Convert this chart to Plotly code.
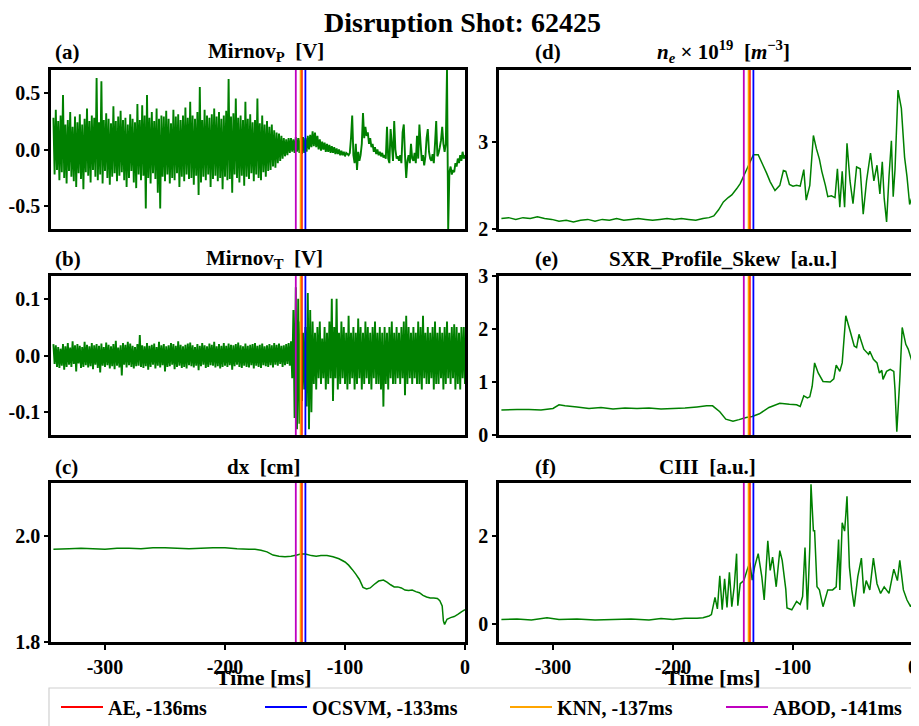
import plotly.graph_objects as go

# ---------------- data ----------------
t_mirnov = list(range(-343, 1))  # 1 ms grid

mirnov_p = [
    0.28,-0.22,0.35,-0.18,0.25,-0.27,0.30,-0.20,0.48,-0.25,0.22,-0.30,
    0.26,-0.19,0.33,-0.24,0.20,-0.28,0.29,-0.33,0.24,-0.21,0.31,-0.26,
    0.22,-0.35,0.27,-0.20,0.36,-0.23,0.25,-0.29,0.30,-0.18,0.28,-0.24,
    0.63,-0.27,0.24,-0.22,0.60,-0.30,0.26,-0.19,0.32,-0.25,0.27,-0.31,
    0.23,-0.24,0.38,-0.21,0.25,-0.28,0.29,-0.23,0.34,-0.20,0.26,-0.27,
    0.28,-0.33,0.22,-0.25,0.31,-0.19,0.27,-0.29,0.24,-0.34,0.40,-0.22,
    0.26,-0.27,0.39,-0.23,0.30,-0.52,0.48,-0.25,0.28,-0.30,0.33,-0.21,
    0.25,-0.26,0.36,-0.38,0.27,-0.52,0.30,-0.24,0.29,-0.28,0.34,-0.22,
    0.27,-0.30,0.23,-0.25,0.35,-0.27,0.29,-0.21,0.31,-0.33,0.26,-0.24,
    0.30,-0.28,0.37,-0.22,0.28,-0.26,0.42,-0.25,0.30,-0.31,0.27,-0.23,
    0.33,-0.40,0.55,-0.29,0.26,-0.24,0.35,-0.27,0.30,-0.22,0.28,-0.33,
    0.31,-0.26,0.36,-0.23,0.29,-0.28,0.33,-0.25,0.27,-0.35,0.30,-0.24,
    0.34,-0.27,0.62,-0.26,0.29,-0.38,0.32,-0.22,0.45,-0.25,0.28,-0.29,
    0.30,-0.23,0.26,-0.32,0.42,-0.24,0.27,-0.26,0.31,-0.21,0.24,-0.28,
    0.26,-0.22,0.45,-0.25,0.23,-0.27,0.30,-0.20,0.22,-0.24,0.25,-0.19,
    0.20,-0.18,0.22,-0.15,0.17,-0.16,0.15,-0.12,0.14,-0.10,0.12,-0.08,
    0.10,-0.06,0.09,-0.05,0.10,-0.03,0.10,-0.02,0.09,-0.03,0.11,-0.02,
    0.10,-0.03,0.10,-0.04,0.11,-0.03,0.10,-0.02,0.12,0.00,0.13,0.02,
    0.16,0.03,0.15,0.02,0.12,0.00,0.09,-0.01,0.07,0.00,0.06,-0.02,
    0.05,-0.02,0.04,-0.03,0.03,-0.03,0.02,-0.04,0.01,-0.04,0.00,-0.05,
    -0.01,-0.05,-0.02,-0.06,-0.03,-0.04,-0.05,-0.03,0.10,0.30,-0.05,-0.12,
    0.05,-0.18,-0.02,-0.10,-0.05,0.05,0.32,0.10,0.20,0.12,0.15,0.05,
    0.10,0.02,0.05,-0.02,0.02,-0.04,0.00,-0.05,-0.02,-0.06,-0.03,-0.07,
    -0.05,-0.08,0.20,-0.08,-0.12,0.18,0.05,-0.10,0.25,0.00,-0.08,-0.06,
    -0.10,-0.05,-0.12,0.15,0.22,-0.05,-0.25,-0.10,-0.05,-0.12,0.05,-0.08,
    -0.10,-0.03,-0.12,0.12,-0.08,0.22,0.05,-0.10,-0.05,-0.14,-0.06,0.10,
    0.18,-0.02,-0.08,-0.10,-0.04,-0.12,0.05,0.25,-0.06,-0.03,0.02,0.08,
    0.20,0.05,-0.02,0.05,0.70,-0.70,-0.20,-0.15,-0.22,-0.18,-0.20,-0.12,
    -0.15,-0.08,-0.12,-0.05,-0.10,-0.02,-0.08,-0.05,
]

mirnov_t = [
    0.02,-0.015,0.018,-0.02,0.015,-0.022,0.012,-0.018,0.02,-0.025,0.016,-0.02,
    0.022,-0.016,0.014,-0.02,0.025,-0.015,0.018,-0.028,0.02,-0.014,0.017,-0.022,
    0.015,-0.02,0.024,-0.017,0.019,-0.021,0.016,-0.019,0.022,-0.024,0.018,-0.016,
    0.02,-0.022,0.017,-0.03,0.021,-0.018,0.015,-0.02,0.023,-0.017,0.019,-0.023,
    0.016,-0.019,0.02,-0.024,0.026,-0.018,0.014,-0.021,0.018,-0.035,0.022,-0.016,
    0.019,-0.021,0.024,-0.017,0.021,-0.02,0.017,-0.023,0.015,-0.019,0.02,-0.018,
    0.036,-0.02,0.018,-0.022,0.016,-0.019,0.022,-0.025,0.017,-0.02,0.019,-0.016,
    0.021,-0.023,0.015,-0.018,0.024,-0.021,0.018,-0.017,0.02,-0.028,0.016,-0.02,
    0.018,-0.019,0.022,-0.016,0.02,-0.024,0.017,-0.02,0.025,-0.018,0.019,-0.022,
    0.016,-0.02,0.019,-0.023,0.021,-0.017,0.023,-0.019,0.018,-0.021,0.015,-0.018,
    0.02,-0.026,0.017,-0.019,0.022,-0.016,0.018,-0.022,0.016,-0.02,0.021,-0.017,
    0.019,-0.018,0.024,-0.021,0.016,-0.019,0.02,-0.023,0.017,-0.02,0.022,-0.018,
    0.017,-0.02,0.021,-0.017,0.019,-0.025,0.018,-0.019,0.02,-0.016,0.023,-0.02,
    0.018,-0.022,0.016,-0.018,0.021,-0.02,0.017,-0.021,0.019,-0.017,0.02,-0.023,
    0.022,-0.018,0.017,-0.02,0.019,-0.022,0.021,-0.017,0.016,-0.019,0.018,-0.02,
    0.02,-0.017,0.018,-0.021,0.022,-0.016,0.019,-0.018,0.021,-0.015,0.017,-0.02,
    0.018,-0.017,0.02,-0.015,0.022,-0.018,0.025,-0.04,0.08,-0.11,0.12,-0.13,
    0.10,-0.12,0.06,-0.08,0.04,-0.06,0.05,-0.09,0.11,-0.13,0.08,-0.10,
    0.06,-0.05,0.04,-0.06,0.05,-0.04,0.06,-0.05,0.03,-0.04,0.05,-0.06,
    0.04,-0.05,0.06,-0.04,0.10,-0.08,0.05,-0.04,0.10,-0.06,0.04,-0.05,
    0.06,-0.04,0.05,-0.05,0.04,-0.06,0.07,-0.05,0.04,-0.04,0.05,-0.06,
    0.04,-0.05,0.065,-0.04,0.05,-0.06,0.04,-0.05,0.06,-0.04,0.05,-0.05,
    0.04,-0.06,0.05,-0.04,0.06,-0.05,0.04,-0.05,0.05,-0.06,0.04,-0.09,
    0.05,-0.05,0.04,-0.06,0.05,-0.04,0.06,-0.05,0.04,-0.05,0.05,-0.04,
    0.04,-0.05,0.05,-0.04,0.06,-0.07,0.07,-0.05,0.05,-0.04,0.04,-0.05,
    0.05,-0.04,0.04,-0.05,0.06,-0.05,0.05,-0.06,0.07,-0.04,0.04,-0.05,
    0.05,-0.05,0.04,-0.04,0.05,-0.06,0.06,-0.05,0.04,-0.05,0.05,-0.04,
    0.04,-0.06,0.05,-0.05,0.06,-0.04,0.04,-0.05,0.05,-0.04,0.055,-0.06,
    0.05,-0.05,0.04,-0.06,0.05,-0.04,0.05,-0.05,
]

dx_t = [-343,-330,-320,-310,-300,-290,-280,-270,-260,-250,-240,-230,-220,-210,-200,
        -190,-180,-175,-170,-165,-160,-155,-150,-145,-140,-137,-133,-128,-124,-120,
        -115,-110,-105,-100,-97,-94,-91,-88,-85,-82,-79,-76,-72,-68,-65,-62,-59,-56,
        -53,-50,-47,-44,-41,-38,-35,-32,-29,-26,-23,-21,-19,-18,-17,-15,-12,-9,-6,-3,0]
dx_v = [1.975,1.976,1.977,1.976,1.975,1.977,1.977,1.976,1.978,1.978,1.977,1.976,1.977,1.978,1.978,
        1.976,1.975,1.975,1.973,1.970,1.964,1.962,1.961,1.962,1.964,1.966,1.966,1.963,1.962,1.963,
        1.963,1.961,1.957,1.951,1.945,1.937,1.928,1.918,1.903,1.900,1.902,1.908,1.915,1.917,1.913,
        1.908,1.904,1.904,1.902,1.898,1.897,1.898,1.895,1.893,1.888,1.885,1.883,1.883,1.882,1.878,
        1.868,1.840,1.833,1.843,1.846,1.848,1.852,1.857,1.861]

ne_t = [-343,-337,-331,-325,-319,-313,-307,-301,-295,-289,-283,-277,-271,-265,-259,
        -253,-247,-241,-235,-229,-223,-217,-211,-205,-199,-193,-187,-181,-175,-170,
        -166,-162,-158,-154,-151,-147,-144,-141,-137,-133,-129,-125,-122,-119,-115,
        -111,-108,-106,-103,-100,-97,-94,-91,-89,-86,-83,-80.5,-78,-76,-73,-71,-68,
        -65,-63,-61,-59,-58,-57,-55,-52.5,-50,-47,-44,-41.5,-38.7,-35.4,-32.6,-30,
        -27.6,-25.6,-24,-22,-20,-18,-16.5,-15,-12.5,-9.7,-7,-5,-2.8,0]
ne_v = [2.12,2.13,2.11,2.13,2.12,2.14,2.12,2.11,2.09,2.10,2.08,2.10,2.11,2.09,2.11,
        2.10,2.12,2.10,2.11,2.12,2.11,2.10,2.11,2.12,2.11,2.12,2.11,2.10,2.12,2.13,
        2.15,2.22,2.31,2.36,2.39,2.46,2.52,2.61,2.73,2.85,2.85,2.73,2.64,2.54,2.44,
        2.50,2.67,2.66,2.51,2.49,2.50,2.49,2.68,2.33,2.50,3.07,2.92,2.80,2.66,2.50,2.37,2.38,
        2.36,2.69,2.25,2.66,2.45,2.25,2.98,2.55,2.29,2.71,2.69,2.17,2.55,2.87,2.55,2.73,
        2.40,2.77,2.35,2.08,2.60,3.01,2.37,2.68,3.59,3.38,2.82,2.60,2.28,2.40]

sxr_t = [-343,-330,-320,-310,-300,-295,-290,-280,-270,-260,-250,-240,-230,-220,-210,
         -200,-190,-180,-172,-167,-161,-156,-150,-145,-139,-134,-128,-120,-111,-103,
         -97,-94,-91,-88,-86,-84,-82,-79,-75,-69,-66,-64,-61,-59,-56,-52,-49,-47,-45,
         -41,-37,-36,-33,-30,-28,-26,-25,-22,-19,-16,-15,-13.5,-11,-9,-6,-4,-1,0]
sxr_v = [0.47,0.48,0.48,0.47,0.50,0.57,0.55,0.53,0.50,0.52,0.49,0.51,0.50,0.51,0.49,
         0.50,0.51,0.53,0.55,0.55,0.44,0.30,0.26,0.29,0.33,0.35,0.40,0.52,0.60,0.58,
         0.57,0.54,0.74,0.70,0.72,0.92,1.36,1.17,1.01,1.00,1.06,1.32,1.20,1.36,2.25,
         1.93,1.68,1.65,1.90,1.62,1.52,1.58,1.43,1.36,1.17,1.22,1.05,1.20,1.24,1.20,
         0.86,0.06,1.05,2.03,1.71,1.62,1.40,1.43]

ciii_t = [-343,-330,-318,-305,-295,-280,-265,-250,-235,-220,-210,-200,-190,-180,-175,
          -170,-168,-165,-163,-161,-159,-157,-155,-153,-151,-149,-147,-146,-144,-141,
          -138,-136,-134,-132,-129,-126,-124,-121,-119,-117,-114,-111,-109,-106,-105,
          -101,-97,-94,-92,-90,-88,-86,-85,-83,-82,-80,-78,-75,-71,-67,-64,-62,-61,
          -59,-57,-56,-55,-53,-51,-49,-46,-43,-41,-39,-36,-33,-30,-27,-24,-20,-16,
          -13,-11,-8,-5,-2,0]
ciii_v = [0.11,0.12,0.10,0.15,0.11,0.12,0.10,0.11,0.12,0.10,0.13,0.11,0.14,0.14,0.15,
          0.19,0.22,0.61,0.35,1.10,0.33,1.03,0.38,1.18,0.40,0.85,1.60,0.42,0.92,0.99,
          1.25,1.40,1.00,1.30,1.60,1.08,0.55,1.89,1.22,1.52,0.85,1.67,1.45,0.79,0.37,
          0.33,0.52,0.45,0.63,1.74,0.33,1.74,3.17,2.12,2.12,0.85,0.78,0.40,0.78,0.78,
          0.85,1.92,0.78,2.30,2.11,2.48,2.90,1.30,0.78,0.40,1.08,1.50,0.70,0.99,0.78,
          1.50,0.92,0.70,0.85,0.70,1.25,0.99,1.45,0.78,0.55,0.40,0.52]

detector_names = ["AE", "OCSVM", "KNN", "ABOD"]
detector_times = [-136, -133, -137, -141]
detector_colors = ["#ff0000", "#0000ff", "#ffa500", "#bf00bf"]

panel_labels = ["(a)", "(b)", "(c)", "(d)", "(e)", "(f)"]
panel_titles = [
    "Mirnov<sub>P</sub>  [V]",
    "Mirnov<sub>T</sub>  [V]",
    "dx  [cm]",
    "<i>n<sub>e</sub></i> × 10<sup>19</sup>  [<i>m</i><sup>−3</sup>]",
    "SXR_Profile_Skew  [a.u.]",
    "CIII  [a.u.]",
]
ytick_vals = [[-0.5, 0.0, 0.5], [-0.1, 0.0, 0.1], [1.8, 2.0], [2, 3], [0, 1, 2, 3], [0, 2]]
ytick_text = [["-0.5", "0.0", "0.5"], ["-0.1", "0.0", "0.1"], ["1.8", "2.0"], ["2", "3"],
              ["0", "1", "2", "3"], ["0", "2"]]
y_ranges = [[-0.7, 0.7], [-0.14, 0.14], [1.8, 2.1], [2.0, 3.82], [0, 3], [-0.4, 3.2]]
xtick_vals = [-300, -200, -100, 0]
xtick_text = ["-300", "-200", "-100", "0"]
x_range = [-345, 0]

title_text = "Disruption Shot: 62425"
xlabel_text = "Time [ms]"

# ---------------- figure ----------------
OFF = 8                       # page body margin of the html page
W, H = 919 - OFF, 726 - OFF   # figure size so it fills the window
FONT = "Liberation Serif"
GREEN = "#008000"


def px(x):
    return (x - OFF) / W


def py(y):
    return 1 - (y - OFF) / H


series = [
    (t_mirnov, mirnov_p, 1.9),
    (t_mirnov, mirnov_t, 1.9),
    (dx_t, dx_v, 1.5),
    (ne_t, ne_v, 1.5),
    (sxr_t, sxr_v, 1.5),
    (ciii_t, ciii_v, 1.5),
]

# window-pixel geometry of the six panels: (left, right, top, bottom)
boxes = [
    (51, 465, 70, 229), (51, 465, 276, 435), (51, 465, 483, 642),
    (499, 913, 70, 229), (499, 913, 276, 435), (499, 913, 483, 642),
]
title_cx = [266, 264, 263, 723, 723, 707]
title_cy = [52, 259, 467, 52, 259, 467]
label_x = [53, 53, 53, 533, 533, 533]

fig = go.Figure()
layout = dict(
    width=W, height=H,
    margin=dict(l=0, r=0, t=0, b=0, autoexpand=False),
    paper_bgcolor="white", plot_bgcolor="white",
    showlegend=True,
)

annotations = []
shapes = []
for i, (tt, vv, lw) in enumerate(series):
    k = "" if i == 0 else str(i + 1)
    fig.add_trace(go.Scatter(x=tt, y=vv, mode="lines",
                             line=dict(color=GREEN, width=lw, simplify=False),
                             xaxis="x" + k, yaxis="y" + k, showlegend=False, hoverinfo="skip"))
    l, r, t, b = boxes[i]
    bottom_row = i in (2, 5)
    layout["xaxis" + k] = dict(
        domain=[px(l), px(r)], anchor="y" + k, range=x_range,
        showline=True, mirror=True, linecolor="black", linewidth=2.5,
        showgrid=False, zeroline=False,
        ticks="outside" if bottom_row else "", ticklen=5, tickwidth=1.5, tickcolor="black",
        tickvals=xtick_vals, ticktext=xtick_text, showticklabels=bottom_row,
        ticklabeloverflow="allow",
        tickfont=dict(family=FONT, size=20, color="black", weight="bold"),
    )
    layout["yaxis" + k] = dict(
        domain=[py(b), py(t)], anchor="x" + k, range=y_ranges[i],
        showline=True, mirror=True, linecolor="black", linewidth=2.5,
        showgrid=False, zeroline=False,
        ticks="outside", ticklen=4, tickwidth=1.5, tickcolor="black",
        tickvals=ytick_vals[i], ticktext=ytick_text[i],
        tickfont=dict(family=FONT, size=20, color="black", weight="bold"),
    )
    for name, tdet, col in zip(detector_names, detector_times, detector_colors):
        shapes.append(dict(type="line", xref="x" + k, yref=("y" + k) + " domain",
                           x0=tdet, x1=tdet, y0=0, y1=1, layer="above",
                           line=dict(color=col, width=1.8)))
    annotations.append(dict(text="<b>" + panel_titles[i] + "</b>", x=px(title_cx[i]), y=py(title_cy[i]),
                            xref="paper", yref="paper", xanchor="center", yanchor="middle",
                            showarrow=False, font=dict(family=FONT, size=21, color="black")))
    annotations.append(dict(text="<b>" + panel_labels[i] + "</b>", x=px(label_x[i]), y=py(title_cy[i]),
                            xref="paper", yref="paper", xanchor="left", yanchor="middle",
                            showarrow=False, font=dict(family=FONT, size=21, color="black")))

# x labels
for cx in (264, 713):
    annotations.append(dict(text="<b>" + xlabel_text + "</b>", x=px(cx), y=py(677),
                            xref="paper", yref="paper", xanchor="center", yanchor="middle",
                            showarrow=False, font=dict(family=FONT, size=22, color="black")))
# suptitle
annotations.append(dict(text="<b>" + title_text + "</b>", x=px(462), y=py(22),
                        xref="paper", yref="paper", xanchor="center", yanchor="middle",
                        showarrow=False, font=dict(family=FONT, size=28, color="black")))

# legend frame
shapes.append(dict(type="rect", xref="paper", yref="paper", x0=px(49), x1=px(913),
                   y0=py(688), y1=py(740), line=dict(color="#d0d0d0", width=1.2),
                   fillcolor="rgba(255,255,255,0)", layer="above"))

# legend entries (one legend per entry to mimic matplotlib column spacing)
legend_ids = ["legend", "legend2", "legend3", "legend4"]
legend_x = [56, 260, 505, 721]
for name, tdet, col, lid, lx in zip(detector_names, detector_times, detector_colors, legend_ids, legend_x):
    fig.add_trace(go.Scatter(x=[None], y=[None], mode="lines", line=dict(color=col, width=2),
                             name=f"{name}, {tdet}ms", legend=lid, hoverinfo="skip"))
    layout[lid] = dict(x=px(lx), y=py(707), xanchor="left", yanchor="middle",
                       orientation="h", bgcolor="rgba(0,0,0,0)", borderwidth=0,
                       itemwidth=42,
                       font=dict(family=FONT, size=20, color="black", weight="bold"))

layout["annotations"] = annotations
layout["shapes"] = shapes
fig.update_layout(**layout)
fig.write_html("out.html")
